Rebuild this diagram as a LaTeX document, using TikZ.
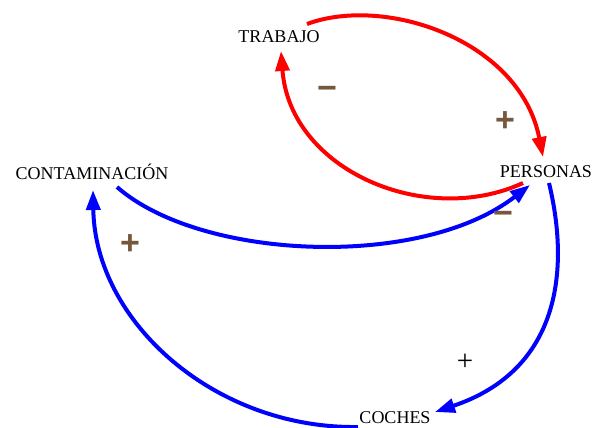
\documentclass[tikz,border=0pt]{standalone}
\usepackage{fontspec}
\setmainfont{Liberation Serif}
\newfontfamily\signfont{Liberation Sans}
\usetikzlibrary{arrows.meta}
\definecolor{signbrown}{RGB}{115,88,62}
\definecolor{loopred}{RGB}{255,0,0}
\definecolor{loopblue}{RGB}{0,0,255}

\begin{document}
\begin{tikzpicture}[x=1pt,y=-1pt,
    var/.style={inner sep=0pt, font=\fontsize{18}{21}\selectfont},
    link/.style={line width=4pt, -{Triangle[length=20pt,width=14pt]}},
    sign/.style={text=signbrown, font=\signfont\bfseries\fontsize{34}{36}\selectfont}]
        \useasboundingbox (0,0) rectangle (592,428);
        % Variables
        \node[var] (trabajo) at (279,37) {TRABAJO};
        \node[var] (personas) at (546,172) {PERSONAS};
        \node[var] (contaminacion) at (92,172) {CONTAMINACIÓN};
        \node[var] (coches) at (395,418) {COCHES};
        % Red loop
        \draw[link, loopred] ([shift={(28,-13)}]trabajo.center) .. controls (385,-5) and (520,40) .. ([shift={(-3,-15)}]personas.center);
        \draw[link, loopred] ([shift={(-23,11)}]personas.center) .. controls (425,228) and (290,170) .. ([shift={(2,14)}]trabajo.center);
        % Blue loop
        \draw[link, loopblue] ([shift={(25,15)}]contaminacion.center) .. controls (200,260) and (420,270) .. ([shift={(-16,13)}]personas.center);
        \draw[link, loopblue] ([shift={(3,11)}]personas.center) .. controls (570,270) and (560,370) .. ([shift={(40,-6)}]coches.center);
        \draw[link, loopblue] ([shift={(-37,9)}]coches.center) .. controls (215,429) and (95,322) .. ([shift={(1,18)}]contaminacion.center);
        % Signs
        \node[sign] (s1) at (327,93) {−};
        \node[sign] (s2) at (505,122) {+};
        \node[sign] (s3) at (503,218) {−};
        \node[sign] (s4) at (130,245) {+};
        \node[font=\fontsize{29}{31}\selectfont] (s5) at (465,362) {+};
\end{tikzpicture}
\end{document}
